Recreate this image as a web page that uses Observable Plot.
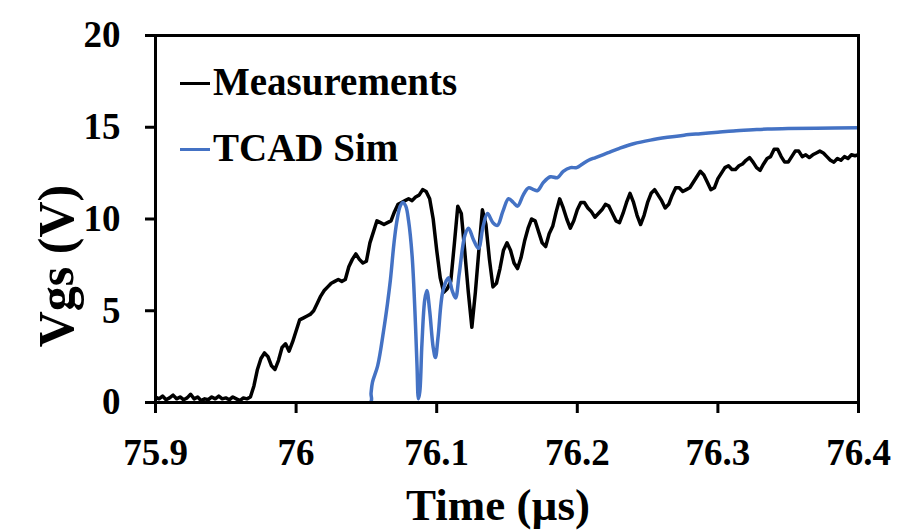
<!DOCTYPE html>
<html><head><meta charset="utf-8">
<script src="https://cdn.jsdelivr.net/npm/d3@7"></script>
<script src="https://cdn.jsdelivr.net/npm/@observablehq/plot@0.6"></script>
<style>
body{margin:0;background:#fff;}
#wrap{position:relative;width:898px;height:532px;font-family:"Liberation Serif","Times New Roman",serif;font-weight:bold;}
.sw{position:absolute;left:180px;width:30px;height:3px;}
.lt{position:absolute;left:213px;font-size:39px;line-height:39px;white-space:nowrap;color:#000;}
</style></head>
<body><div id="wrap"></div>
<script>
// Measurement: Vgs sampled every 0.0025 µs starting at 75.9 µs
const measStart = 75.9;
const measStep = 0.0025;
const measVgs = [
  0.3, 0.2, 0.35, 0.15, 0.25, 0.4, 0.2, 0.3, 0.15, 0.25,
  0.45, 0.2, 0.3, 0.1, 0.2, 0.15, 0.3, 0.2, 0.35, 0.2,
  0.25, 0.15, 0.3, 0.2, 0.1, 0.25, 0.2, 0.3, 0.9, 1.8,
  2.4, 2.7, 2.5, 2.0, 1.8, 2.3, 3.0, 3.2, 2.8, 3.3,
  3.9, 4.5, 4.6, 4.7, 4.8, 5.0, 5.4, 5.8, 6.1, 6.3,
  6.5, 6.6, 6.7, 6.6, 6.7, 7.4, 7.8, 8.1, 7.8, 7.6,
  7.7, 8.7, 9.3, 9.9, 9.8, 9.7, 9.8, 9.9, 10.4, 10.8,
  10.9, 11.0, 11.1, 11.0, 11.2, 11.3, 11.6, 11.5, 11.1, 10.0,
  8.3, 6.8, 6.0, 6.2, 6.6, 8.6, 10.7, 10.3, 8.2, 6.0,
  4.1, 6.0, 8.3, 10.5, 9.7, 7.8, 6.3, 6.5, 7.3, 8.3,
  8.7, 8.3, 7.6, 7.3, 7.9, 8.8, 9.5, 10.0, 9.9, 9.3,
  8.7, 8.5, 9.2, 9.6, 10.4, 11.1, 10.6, 10.0, 9.5, 9.9,
  10.5, 10.9, 10.9, 10.6, 10.4, 10.1, 10.3, 10.5, 10.8, 10.7,
  10.3, 9.9, 9.8, 10.3, 10.9, 11.4, 10.9, 10.2, 9.7, 10.2,
  10.9, 11.4, 11.6, 11.3, 11.0, 10.6, 10.8, 11.3, 11.7, 11.7,
  11.5, 11.6, 11.7, 12.0, 12.3, 12.6, 12.4, 12.0, 11.6, 11.7,
  12.2, 12.5, 12.8, 12.9, 12.7, 12.7, 12.9, 13.0, 13.2, 13.35,
  13.1, 12.8, 12.65, 13.0, 13.3, 13.4, 13.8, 13.8, 13.4, 13.1,
  13.1, 13.4, 13.7, 13.7, 13.4, 13.5, 13.35, 13.5, 13.6, 13.7,
  13.6, 13.4, 13.2, 13.1, 13.3, 13.2, 13.4, 13.3, 13.5, 13.45,
  13.5
];

// TCAD simulation
const simTime = [
  75.9, 76.0528, 76.0533, 76.0543, 76.058, 76.0622, 76.065, 76.0671, 76.0695, 76.0715,
  76.074, 76.076, 76.078, 76.08, 76.0825, 76.0845, 76.086, 76.087, 76.088, 76.0895,
  76.0915, 76.093, 76.095, 76.0975, 76.0991, 76.101, 76.1045, 76.1084, 76.111, 76.1134,
  76.116, 76.12, 76.1226, 76.126, 76.1297, 76.133, 76.1361, 76.14, 76.1432, 76.147,
  76.1511, 76.1545, 76.1575, 76.1615, 76.1653, 76.169, 76.1717, 76.176, 76.1809, 76.1859,
  76.19, 76.1952, 76.1995, 76.2037, 76.208, 76.213, 76.2215, 76.23, 76.24, 76.252,
  76.2642, 76.276, 76.2876, 76.3, 76.3111, 76.325, 76.3353, 76.35, 76.37, 76.4
];
const simVgs = [
  0, 0, 0.5, 1.1, 2.0, 3.9, 5.4, 6.7, 8.6, 9.8,
  10.7, 10.9, 10.7, 9.9, 8.0, 5.0, 2.0, 0.2, 0.6, 3.2,
  5.6, 6.1, 5.0, 3.0, 2.45, 3.6, 6.1, 6.8, 6.1, 5.7,
  7.0, 9.1, 9.5, 8.9, 8.4, 9.6, 10.3, 9.8, 9.65, 10.4,
  11.1, 10.9, 10.7, 11.3, 11.7, 11.6, 11.55, 12.0, 12.3, 12.25,
  12.6, 12.8, 12.8, 13.0, 13.2, 13.35, 13.6, 13.85, 14.1, 14.3,
  14.45, 14.57, 14.65, 14.73, 14.8, 14.86, 14.9, 14.93, 14.95, 14.97
];

const xTicks = [75.9, 76, 76.1, 76.2, 76.3, 76.4];
const yTicks = [0, 5, 10, 15, 20];
const seriesNames = ["Measurements", "TCAD Sim"];
const seriesColors = ["#000000", "#4472C4"];
const xLabel = "Time (µs)";
const yLabel = "Vgs (V)";

const meas = measVgs.map((v, i) => ({t: +(measStart + i * measStep).toFixed(4), v}));
const sim = simTime.map((t, i) => ({t, v: simVgs[i]}));

const chart = Plot.plot({
  width: 898, height: 532,
  marginLeft: 155, marginRight: 40, marginTop: 35, marginBottom: 130,
  style: {fontFamily: '"Liberation Serif", "Times New Roman", serif', fontWeight: "bold", fontSize: "37px", color: "#000", background: "#fff", overflow: "visible"},
  x: {domain: [75.9, 76.4]},
  y: {domain: [0, 20]},
  marks: [
    Plot.axisX({ticks: xTicks, tickFormat: d => String(+d.toFixed(1)), tickSize: 11, tickPadding: 25, strokeWidth: 3, fontSize: 37, label: null}),
    Plot.axisY({ticks: yTicks, tickSize: 10, tickPadding: 25, strokeWidth: 3, fontSize: 37, label: null}),
    Plot.line(meas, {x: "t", y: "v", stroke: seriesColors[0], strokeWidth: 3.5, clip: true}),
    Plot.line(sim, {x: "t", y: "v", stroke: seriesColors[1], strokeWidth: 3.5, curve: "catmull-rom", clip: true}),
    Plot.frame({strokeWidth: 3, stroke: "#000"}),
    Plot.text([xLabel], {frameAnchor: "bottom", dy: 103, dx: -9, fontSize: 45, lineAnchor: "middle", textAnchor: "middle"}),
    Plot.text([yLabel], {frameAnchor: "left", rotate: -90, dx: -99, dy: 47, fontSize: 50, lineAnchor: "middle", textAnchor: "middle"})
  ]
});

const wrap = document.getElementById("wrap");
wrap.append(chart);

// Legend (inside plot area, top-left)
const legendTops = [62, 128];
seriesNames.forEach((name, i) => {
  const sw = document.createElement("div");
  sw.className = "sw";
  sw.style.top = (legendTops[i] + 19.5) + "px";
  sw.style.background = seriesColors[i];
  wrap.append(sw);
  const t = document.createElement("div");
  t.className = "lt";
  t.style.top = legendTops[i] + "px";
  t.textContent = name;
  wrap.append(t);
});
</script>
</body></html>
